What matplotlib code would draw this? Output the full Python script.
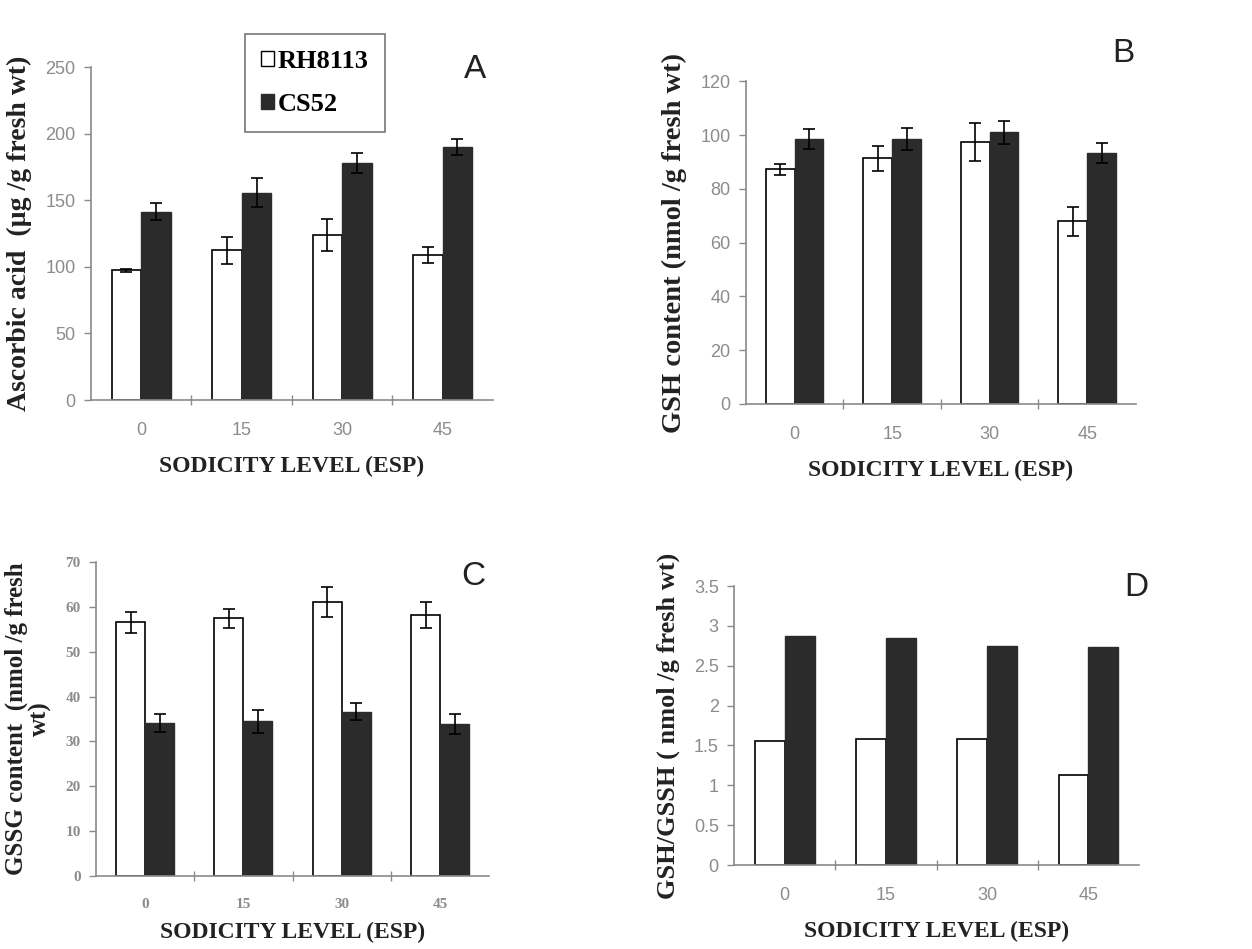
import numpy as np
import matplotlib
matplotlib.use('Agg')
import matplotlib.pyplot as plt
from matplotlib.patches import Patch

# sodicity levels (ESP)
esp = ['0', '15', '30', '45']

# A - ascorbic acid (ug/g fresh wt)
asc_rh = [97.5, 112.5, 124, 109]
asc_rh_err = [1, 10, 12, 6]
asc_cs = [141.5, 156, 178, 190]
asc_cs_err = [6.5, 11, 7.5, 6]

# B - GSH content (nmol/g fresh wt)
gsh_rh = [87.3, 91.3, 97.5, 68]
gsh_rh_err = [2, 4.5, 7, 5.4]
gsh_cs = [98.7, 98.5, 101, 93.4]
gsh_cs_err = [3.7, 4, 4.3, 3.7]

# C - GSSG content (nmol/g fresh wt)
gssg_rh = [56.5, 57.4, 61.1, 58.1]
gssg_rh_err = [2.3, 2.2, 3.3, 2.9]
gssg_cs = [34.2, 34.5, 36.6, 33.9]
gssg_cs_err = [2, 2.6, 1.9, 2.2]

# D - GSH/GSSH ratio
ratio_rh = [1.55, 1.58, 1.58, 1.13]
ratio_cs = [2.87, 2.85, 2.75, 2.74]

dark = '#2b2b2b'
grey = '#8a8a8a'
serif = 'Liberation Serif'
sans = 'Liberation Sans'


def panel(ax, rh, cs, rh_err, cs_err, ymax, ystep, ylabel, letter, letter_xy,
          tick_font=sans, xlab_size=17, ylab_size=19, xpad=12):
    x = np.arange(len(esp))
    w = 0.295
    ekw = dict(ecolor='black', elinewidth=1.2, capsize=4, capthick=1.2)
    ax.bar(x - w/2, rh, w, color='white', edgecolor='black', linewidth=1.2,
           yerr=rh_err, error_kw=ekw, zorder=2)
    ax.bar(x + w/2, cs, w, color=dark, edgecolor=dark, linewidth=1.0,
           yerr=cs_err, error_kw=ekw, zorder=2)
    ax.set_xlim(-0.5, len(esp) - 0.5)
    ax.set_ylim(0, ymax)
    yt = np.arange(0, ymax + ystep/2, ystep)
    ax.set_yticks(yt)
    ax.set_yticklabels(['%g' % v for v in yt])
    ax.set_xticks(x)
    ax.set_xticklabels(esp)
    ax.set_xticks(np.arange(0.5, len(esp) - 0.5, 1), minor=True)
    ax.tick_params(axis='x', which='major', length=0, pad=16)
    ax.tick_params(axis='x', which='minor', length=7, direction='inout',
                   color=grey, width=1)
    ax.tick_params(axis='y', length=5, color=grey, width=1, pad=6)
    for lab in ax.get_xticklabels() + ax.get_yticklabels():
        lab.set_family(tick_font)
        lab.set_color('#8c8c8c')
        lab.set_fontsize(13)
    for s in ['top', 'right']:
        ax.spines[s].set_visible(False)
    for s in ['left', 'bottom']:
        ax.spines[s].set_color(grey)
        ax.spines[s].set_linewidth(1.2)
    ax.set_xlabel('SODICITY LEVEL (ESP)', family=serif, fontweight='bold',
                  fontsize=xlab_size, color='#222222', labelpad=xpad)
    ax.set_ylabel(ylabel, family=serif, fontweight='bold', fontsize=ylab_size,
                  color='#222222', labelpad=10, linespacing=1.0)
    ax.text(letter_xy[0], letter_xy[1], letter, transform=ax.transAxes,
            family=sans, fontsize=24, ha='center', va='center', color='#222222')


fig = plt.figure(figsize=(12.52, 9.49), dpi=100)

axA = fig.add_axes([0.0727, 0.5785, 0.321, 0.3504])
panel(axA, asc_rh, asc_cs, asc_rh_err, asc_cs_err, 250, 50,
      'Ascorbic acid  (\u00b5g /g fresh wt)', 'A', (0.955, 0.995),
      ylab_size=20)
handles = [Patch(facecolor='white', edgecolor='black', linewidth=1.0),
           Patch(facecolor=dark, edgecolor=dark)]
leg = axA.legend(handles, ['RH8113', 'CS52'], loc='upper left',
                 bbox_to_anchor=(0.35, 1.14), frameon=True, fancybox=False,
                 edgecolor='#555555', handlelength=0.5, handleheight=0.5,
                 handletextpad=0.15, borderpad=0.6, labelspacing=0.75,
                 borderaxespad=0.5,
                 prop={'family': serif, 'weight': 'bold', 'size': 19})
leg.get_frame().set_linewidth(1.2)

axB = fig.add_axes([0.5958, 0.5743, 0.3115, 0.340])
panel(axB, gsh_rh, gsh_cs, gsh_rh_err, gsh_cs_err, 120, 20,
      'GSH content (nmol /g fresh wt)', 'B', (0.967, 1.087), ylab_size=20.5)

axC = fig.add_axes([0.0767, 0.0769, 0.314, 0.331])
panel(axC, gssg_rh, gssg_cs, gssg_rh_err, gssg_cs_err, 70, 10,
      'GSSG content  (nmol /g fresh\nwt)', 'C', (0.96, 0.955),
      tick_font=serif, ylab_size=18, xpad=8)
axC.yaxis.labelpad = 10
for lab in axC.get_xticklabels() + axC.get_yticklabels():
    lab.set_fontsize(11)
    lab.set_fontweight('bold')

axD = fig.add_axes([0.5863, 0.0885, 0.3235, 0.294])
panel(axD, ratio_rh, ratio_cs, None, None, 3.5, 0.5,
      'GSH/GSSH ( nmol /g fresh wt)', 'D', (0.993, 0.996), ylab_size=19,
      xpad=12)

fig.savefig('out.png', dpi=100, facecolor='white')
